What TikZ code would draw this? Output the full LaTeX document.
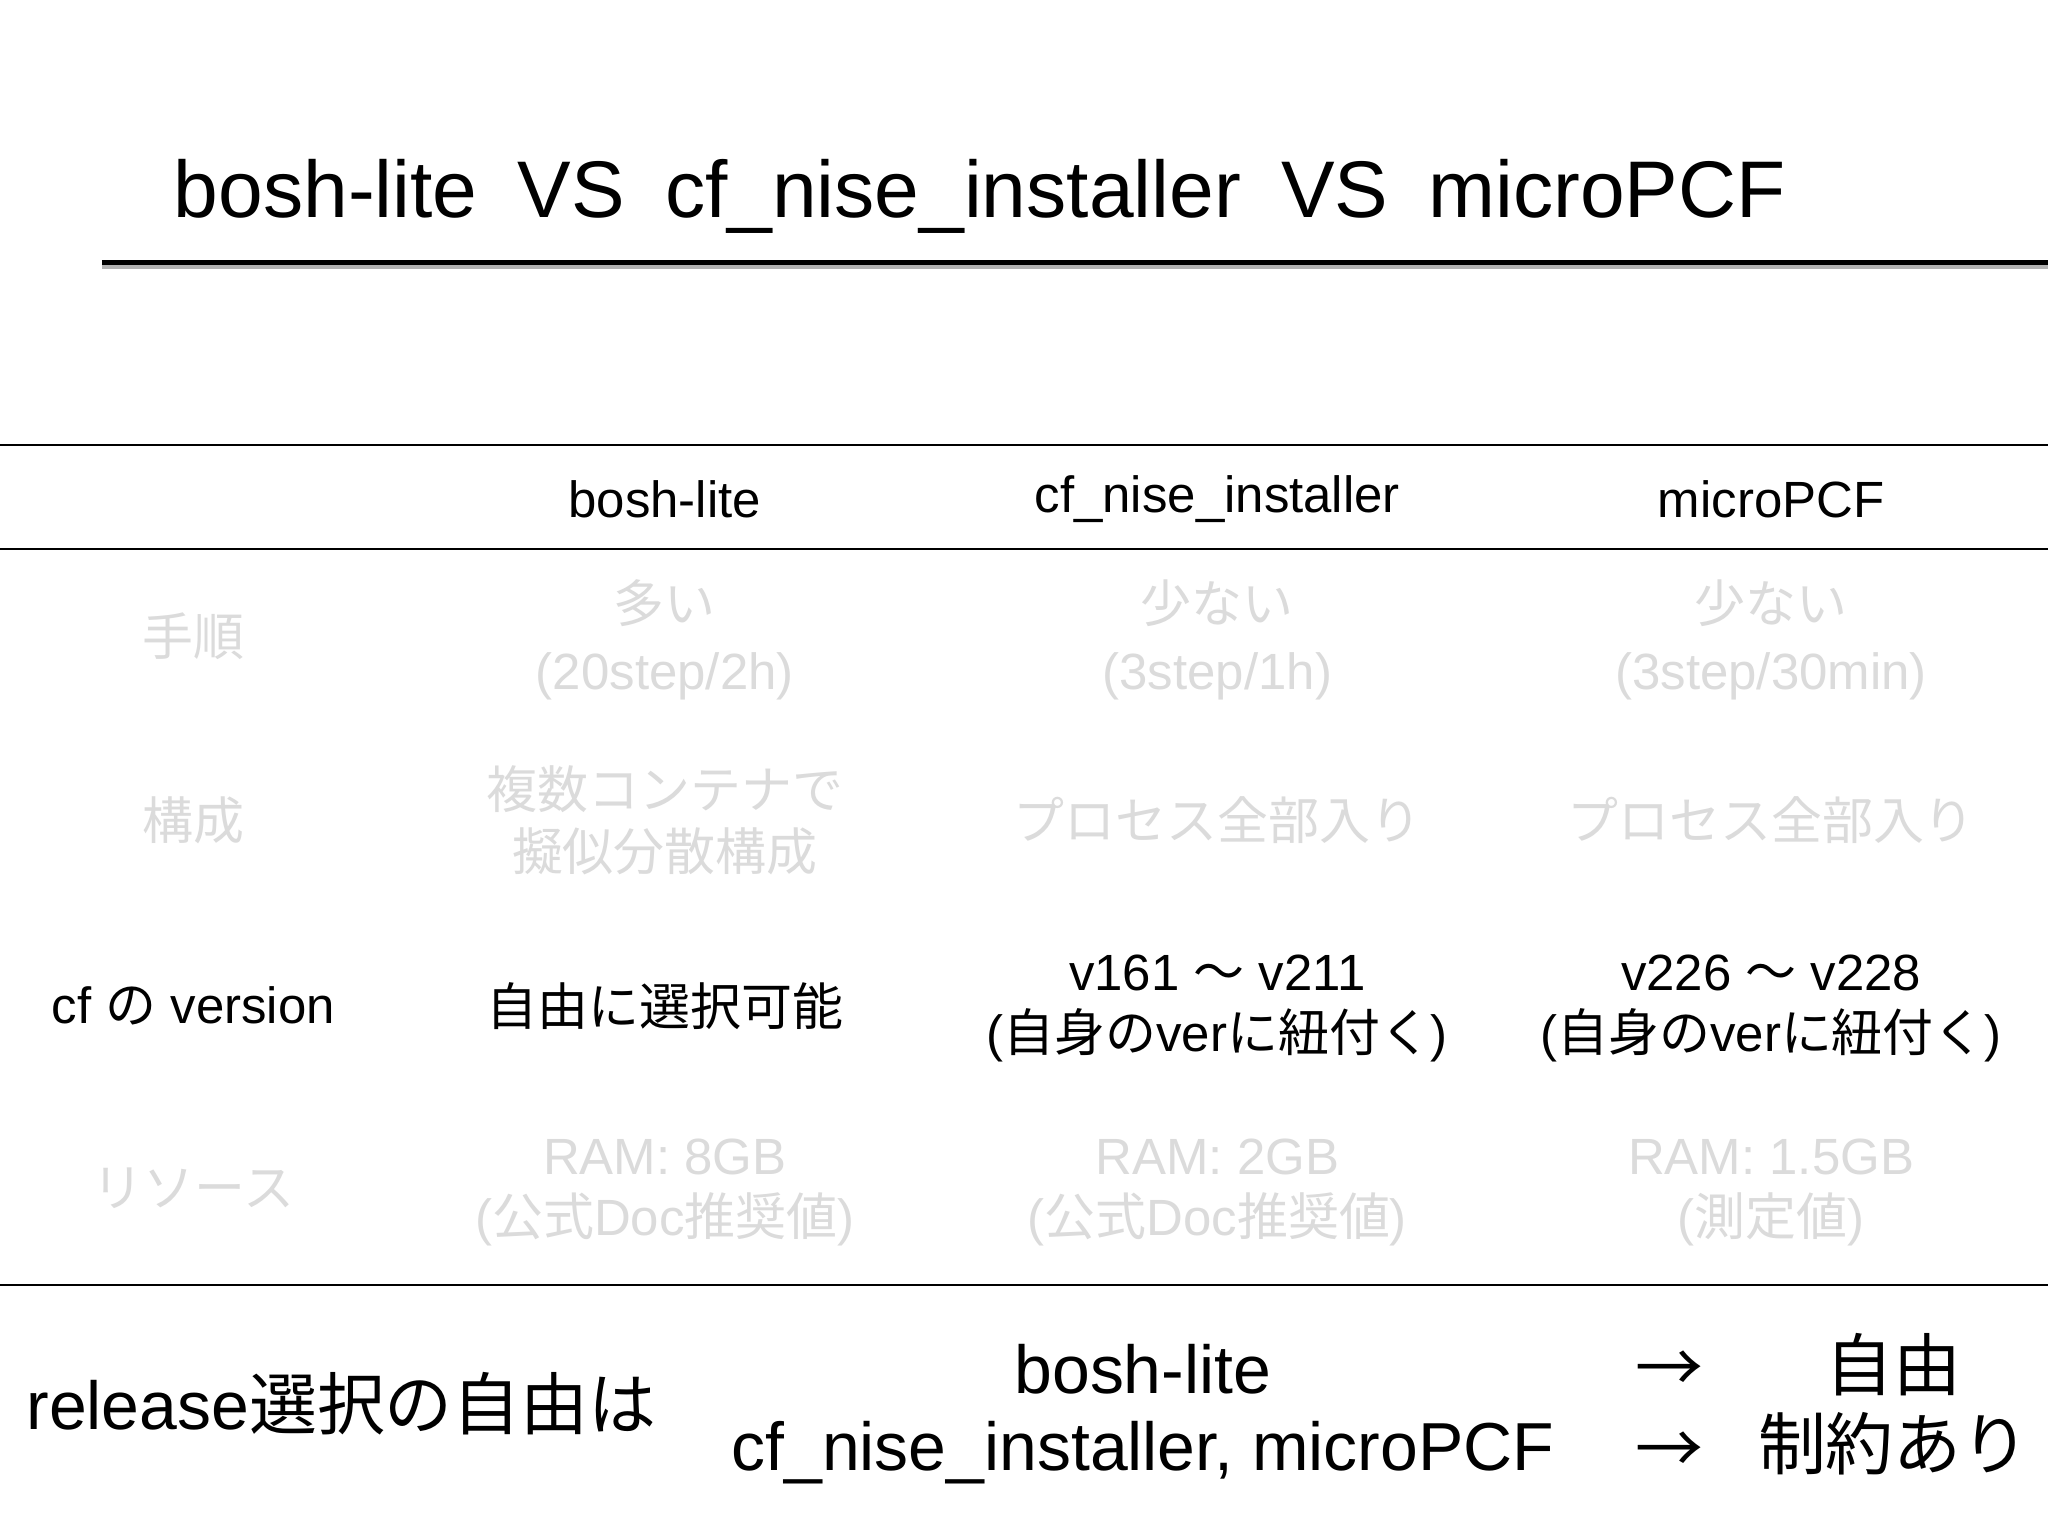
\documentclass[tikz,border=0pt]{standalone}
\usepackage{fontspec}
\setmainfont{Liberation Sans}
\newfontfamily\jp{Noto Sans CJK JP}
\begin{document}
\begin{tikzpicture}[x=1pt,y=-1pt,
  cell/.style={font=\fontsize{39}{47}\selectfont,align=center,anchor=center,inner sep=0},
  faded/.style={cell,text=black!14},
  big/.style={font=\fontsize{52}{60}\selectfont,inner sep=0}]
\useasboundingbox[fill=white] (0,0) rectangle (1568,1176);
\node[font=\fontsize{61.5}{66}\selectfont,anchor=west,inner sep=0] (title) at (133,150) {bosh-lite\,\,\,VS\,\,\,cf\_nise\_installer\,\,\,VS\,\,\,microPCF};
\coordinate (ul1) at (78,201); \coordinate (ul2) at (1568,201);
\draw[line width=4pt,black!30] ([yshift=-3pt]ul1) -- ([yshift=-3pt]ul2);
\draw[line width=3.5pt] (ul1) -- (ul2);
\coordinate (l1a) at (0,341); \coordinate (l1b) at (1568,341);
\coordinate (l2a) at (0,420); \coordinate (l2b) at (1568,420);
\coordinate (l3a) at (0,984); \coordinate (l3b) at (1568,984);
\draw[line width=1.5pt] (l1a)--(l1b) (l2a)--(l2b) (l3a)--(l3b);
\node[cell] (h1) at (509,382) {bosh-lite};
\node[cell] (h2) at (932,382) {cf\_nise\_installer};
\node[cell] (h3) at (1356,382) {microPCF};
\node[faded] (r1) at (148,487) {\jp 手順};
\node[faded] (r1a) at (509,490) {{\jp 多い}\\[4pt](20step/2h)};
\node[faded] (r1b) at (932,490) {{\jp 少ない}\\[4pt](3step/1h)};
\node[faded] (r1c) at (1356,490) {{\jp 少ない}\\[4pt](3step/30min)};
\node[faded] (r2) at (148,628) {\jp 構成};
\node[faded] (r2a) at (509,628) {\jp 複数コンテナで\\\jp 擬似分散構成};
\node[faded] (r2b) at (932,628) {\jp プロセス全部入り};
\node[faded] (r2c) at (1356,628) {\jp プロセス全部入り};
\node[cell] (r3) at (148,770) {cf {\jp の} version};
\node[cell] (r3a) at (509,770) {\jp 自由に選択可能};
\node[cell] (r3b) at (932,772) {v161 {\jp 〜} v211\\({\jp 自身の}ver{\jp に紐付く})};
\node[cell] (r3c) at (1356,772) {v226 {\jp 〜} v228\\({\jp 自身の}ver{\jp に紐付く})};
\node[faded] (r4) at (148,910) {\jp リソース};
\node[faded] (r4a) at (509,913) {RAM: 8GB\\({\jp 公式}Doc{\jp 推奨値})};
\node[faded] (r4b) at (932,913) {RAM: 2GB\\({\jp 公式}Doc{\jp 推奨値})};
\node[faded] (r4c) at (1356,913) {RAM: 1.5GB\\({\jp 測定値})};
\node[big,anchor=west] (b0) at (20,1075) {release{\jp 選択の自由は}};
\node[big] (b1) at (875,1048) {bosh-lite};
\node[big] (b2) at (875,1112) {cf\_nise\_installer, microPCF};
\node[big] (a1) at (1278,1050) {\jp →};
\node[big] (a2) at (1278,1112) {\jp →};
\node[big] (c1) at (1450,1045) {\jp 自由};
\node[big] (c2) at (1450,1105) {\jp 制約あり};
\end{tikzpicture}
\end{document}
